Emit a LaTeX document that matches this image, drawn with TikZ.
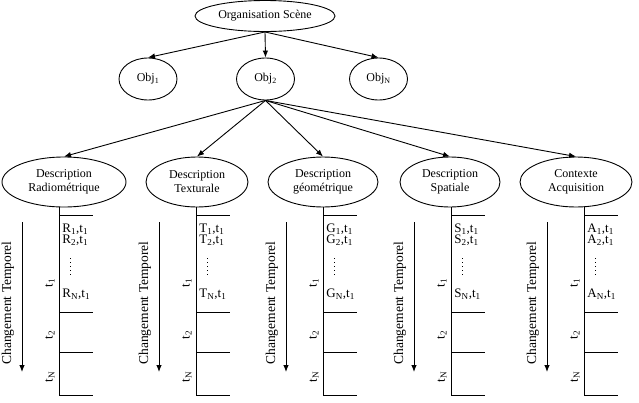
\documentclass[tikz,border=0pt]{standalone}
\usepackage{fontspec}
\setmainfont{Liberation Serif}
\usetikzlibrary{shapes.geometric,arrows.meta}
\begin{document}
\begin{tikzpicture}[x=1pt,y=-1pt, line width=0.9pt,
  >={Latex[length=7pt,width=5.5pt]},
  ell/.style={draw, ellipse, inner sep=0pt, align=center, font=\fontsize{12}{14}\selectfont},
  lab/.style={anchor=west, inner sep=0pt, text height=8pt, text depth=1.5pt, font=\fontsize{13}{13}\selectfont},
  tlab/.style={rotate=90, inner sep=0pt, font=\fontsize{13}{14}\selectfont},
  ctlab/.style={rotate=90, inner sep=0pt, font=\fontsize{13.5}{14}\selectfont}]
\useasboundingbox (0,0) rectangle (639,402);
\node[ell, minimum width=140pt, minimum height=31pt] (top) at (265,16) {Organisation Scène};
\node[ell, minimum width=58pt, minimum height=42pt] (obj1) at (148,79) {Obj\textsubscript{1}};
\node[ell, minimum width=58pt, minimum height=42pt] (obj2) at (265.5,79) {Obj\textsubscript{2}};
\node[ell, minimum width=58pt, minimum height=42pt] (objn) at (378.5,79) {Obj\textsubscript{N}};
\draw[->] (top.south) -- (obj1.north);
\draw[->] (top.south) -- (obj2.north);
\draw[->] (top.south) -- (objn.north);
\foreach \n/\cx/\rx/\lx/\L/\txt in {
  r/64/62/59/R/{Description\\Radiométrique},
  t/197/51/196/T/{Description\\Texturale},
  g/323/55/323/G/{Description\\géométrique},
  s/450/50/451/S/{Description\\Spatiale},
  a/576/56/584/A/{Contexte\\Acquisition}}
{
  \node[ell, minimum width={2*\rx*1pt}, minimum height=50pt] (d\n) at (\cx,182) {\txt};
  \draw[->] (obj2.south) -- (d\n.north);
  \coordinate (v\n a) at (\lx,207);
  \coordinate (v\n b) at (\lx,395);
  \draw (v\n a) -- (v\n b);
  \foreach \y in {215,312,352,395} \draw (\lx,\y) -- ++(34,0);
  \node[lab] (\n l1) at (\lx+3,229) {\L\textsubscript{1},t\textsubscript{1}};
  \node[lab] (\n l2) at (\lx+3,240.5) {\L\textsubscript{2},t\textsubscript{1}};
  \coordinate (\n da) at (\lx+11,258);
  \coordinate (\n db) at (\lx+11,275);
  \draw[line width=1pt, dash pattern=on 1pt off 3pt] (\n da) -- (\n db);
  \node[lab] (\n ln) at (\lx+3,294) {\L\textsubscript{N},t\textsubscript{1}};
  \node[tlab] (\n t1) at (\lx-9,283) {t\textsubscript{1}};
  \node[tlab] (\n t2) at (\lx-9,335) {t\textsubscript{2}};
  \node[tlab] (\n tn) at (\lx-9,377) {t\textsubscript{N}};
  \node[ctlab] (\n ct) at (\lx-51,303) {Changement Temporel};
  \coordinate (\n ca) at (\lx-37,222);
  \coordinate (\n cb) at (\lx-37,372);
  \draw[->] (\n ca) -- (\n cb);
}
\end{tikzpicture}
\end{document}
